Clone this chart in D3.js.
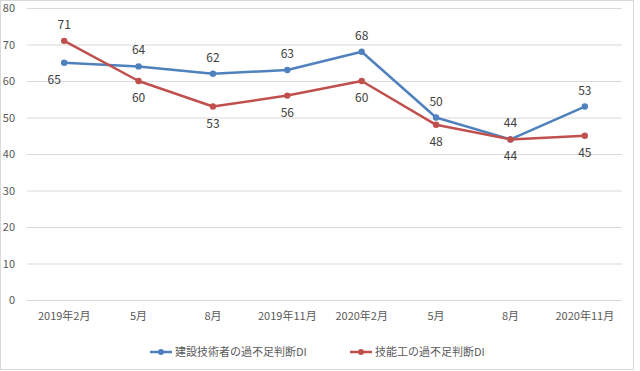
<!DOCTYPE html>
<html><head><meta charset="utf-8">
<script src="https://cdn.jsdelivr.net/npm/d3@7"></script>
<style>
body{margin:0;background:#fff;}
text{font-family:"Noto Sans CJK JP","Noto Sans",sans-serif;}
</style></head>
<body><svg id="c" width="640" height="371"></svg>
<script>
const categories = ["2019年2月","5月","8月","2019年11月","2020年2月","5月","8月","2020年11月"];
const engineers = [65,64,62,63,68,50,44,53];
const workers = [71,60,53,56,60,48,44,45];
const seriesNames = ["建設技術者の過不足判断DI","技能工の過不足判断DI"];
const yTicks = [0,10,20,30,40,50,60,70,80];

(function(){
const svg = d3.select("#c");
const mLeft = 27, mRight = 622, mTop = 8, mBottom = 300;
svg.append("rect").attr("x",0.5).attr("y",0.5).attr("width",633).attr("height",369)
  .attr("fill","#fff").attr("stroke","#d9d9d9");

const x = d3.scaleBand().domain(d3.range(categories.length)).range([mLeft,mRight]);
const y = d3.scaleLinear().domain([0,80]).range([mBottom,mTop]);

svg.append("g").selectAll("line").data(yTicks).join("line")
  .attr("x1",mLeft).attr("x2",mRight)
  .attr("y1",d=>y(d)+0.5).attr("y2",d=>y(d)+0.5)
  .attr("stroke","#d9d9d9").attr("stroke-width",1);

const yAxis = svg.append("g").attr("transform",`translate(${mLeft},0)`)
  .call(d3.axisLeft(y).tickValues(yTicks).tickSize(0).tickPadding(12));
yAxis.select(".domain").remove();
yAxis.selectAll("text").attr("fill","#595959").style("font-size","11px")
  .style("font-family","'Noto Sans CJK JP',sans-serif");

const xAxis = svg.append("g").attr("transform",`translate(0,${mBottom})`)
  .call(d3.axisBottom(x).tickFormat(i=>categories[i]).tickSize(0).tickPadding(12));
xAxis.select(".domain").remove();
xAxis.selectAll("text").attr("fill","#595959").style("font-size","11px")
  .style("font-family","'Noto Sans CJK JP',sans-serif");

const cx = i => x(i) + x.bandwidth()/2;
const series = [
  {vals: engineers, other: workers, color:"#4F81BD", first:true},
  {vals: workers, other: engineers, color:"#C0504D", first:false}
];
const line = d3.line().x((d,i)=>cx(i)).y(d=>y(d));

series.forEach(s=>{
  svg.append("path").datum(s.vals).attr("d",line)
    .attr("fill","none").attr("stroke",s.color).attr("stroke-width",2.5)
    .attr("stroke-linejoin","round");
  svg.append("g").selectAll("circle").data(s.vals).join("circle")
    .attr("cx",(d,i)=>cx(i)).attr("cy",d=>y(d)).attr("r",3.2).attr("fill",s.color);
});
series.forEach(s=>{
  svg.append("g").selectAll("text").data(s.vals).join("text")
    .attr("x",(d,i)=>{
      const above = d > s.other[i] || (d===s.other[i] && s.first);
      return cx(i) + (!above && i===0 ? -10 : 0);
    })
    .attr("y",(d,i)=>{
      const above = d > s.other[i] || (d===s.other[i] && s.first);
      return above ? y(d)-12 : y(d)+21;
    })
    .attr("text-anchor","middle").attr("fill","#404040").style("font-size","12px")
    .text(d=>d);
});

const lg = [150,350];
series.forEach((s,k)=>{
  const g = svg.append("g").attr("transform",`translate(${lg[k]},352)`);
  g.append("line").attr("x1",0).attr("x2",22).attr("y1",0).attr("y2",0)
    .attr("stroke",s.color).attr("stroke-width",2.5);
  g.append("circle").attr("cx",11).attr("cy",0).attr("r",3).attr("fill",s.color);
  g.append("text").attr("x",25).attr("y",4).attr("fill","#595959")
    .style("font-size","11px").text(seriesNames[k]);
});
})();
</script></body></html>
